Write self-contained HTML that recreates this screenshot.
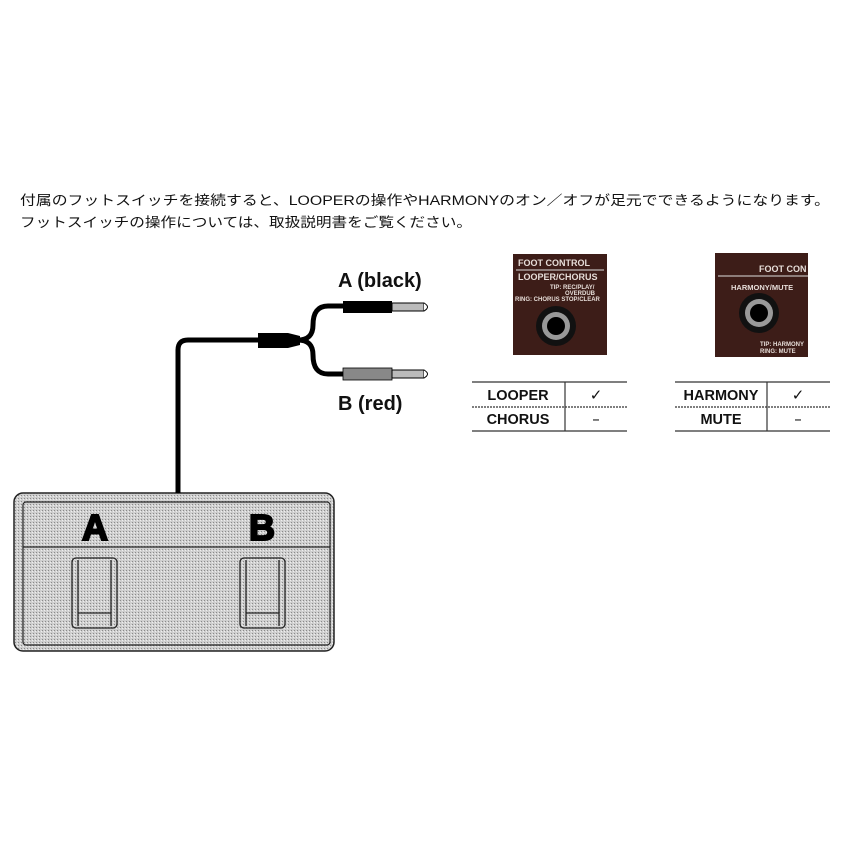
<!DOCTYPE html>
<html><head><meta charset="utf-8"><style>
body{margin:0;background:#fff;width:850px;height:850px;overflow:hidden}
svg{display:block}
</style></head><body>
<svg width="850" height="850" viewBox="0 0 850 850" xmlns="http://www.w3.org/2000/svg">
<defs>
<pattern id="dots" width="3" height="3" patternUnits="userSpaceOnUse"><rect width="3" height="3" fill="#cfcfcf"/><rect width="1" height="1" fill="#8a8a8a"/><rect x="2" y="1" width="1" height="1" fill="#eee"/></pattern>
</defs>
<g font-family="'Liberation Sans','Noto Sans CJK JP',sans-serif" font-size="13.5" fill="#111">
<text x="20" y="205" textLength="810" lengthAdjust="spacingAndGlyphs">付属のフットスイッチを接続すると、LOOPERの操作やHARMONYのオン／オフが足元でできるようになります。</text>
<text x="20" y="227" textLength="452" lengthAdjust="spacingAndGlyphs">フットスイッチの操作については、取扱説明書をご覧ください。</text>
</g>
<!-- pedal -->
<rect x="14" y="493" width="320" height="158" rx="9" fill="url(#dots)" stroke="#222" stroke-width="1.5"/>
<rect x="23" y="502" width="307" height="143" rx="3" fill="none" stroke="#222" stroke-width="1.2"/>
<line x1="23" y1="547" x2="330" y2="547" stroke="#222" stroke-width="1.2"/>
<g font-family="'Liberation Sans',sans-serif" font-weight="bold" font-size="36" fill="#000" stroke="#000" stroke-width="2" text-anchor="middle">
<text x="95" y="540">A</text><text x="262" y="540">B</text></g>
<g fill="none" stroke="#222" stroke-width="1.3">
<rect x="72" y="558" width="45" height="70" rx="4"/><line x1="78" y1="560" x2="78" y2="626"/><line x1="111" y1="560" x2="111" y2="626"/><line x1="78" y1="613" x2="111" y2="613"/>
<rect x="240" y="558" width="45" height="70" rx="4"/><line x1="246" y1="560" x2="246" y2="626"/><line x1="279" y1="560" x2="279" y2="626"/><line x1="246" y1="613" x2="279" y2="613"/>
</g>
<!-- cable -->
<path d="M178 493 V350 Q178 340 188 340 H262" fill="none" stroke="#000" stroke-width="5"/>
<path d="M258 333 H288 L300 336 V345 L288 348 H258 Z" fill="#000"/>
<path d="M298 340 Q313 340 313 325 Q313 306 328 306 H345 M298 340 Q313 340 313 355 Q313 374 328 374 H345" fill="none" stroke="#000" stroke-width="5"/>
<rect x="343" y="301" width="49" height="12" fill="#000"/>
<rect x="392" y="303" width="32" height="8" fill="#bbb" stroke="#000" stroke-width="1"/>
<path d="M424 303 Q431 307 424 311" fill="#fff" stroke="#000"/>
<rect x="343" y="368" width="49" height="12" fill="#888" stroke="#000" stroke-width="0.8"/>
<rect x="392" y="370" width="32" height="8" fill="#bbb" stroke="#000" stroke-width="1"/>
<path d="M424 370 Q431 374 424 378" fill="#fff" stroke="#000"/>
<g font-family="'Liberation Sans',sans-serif" font-weight="bold" font-size="20" fill="#111">
<text x="338" y="287">A (black)</text><text x="338" y="410">B (red)</text></g>
<!-- photos -->
<rect x="513" y="254" width="94" height="101" fill="#3d1d18"/>
<g font-family="'Liberation Sans',sans-serif" font-size="9" fill="#e6ddd8" font-weight="bold">
<text x="518" y="266">FOOT CONTROL</text>
<line x1="516" y1="270" x2="604" y2="270" stroke="#ddd"/>
<text x="518" y="280">LOOPER/CHORUS</text>
<text x="550" y="289" font-size="6">TIP: REC/PLAY/</text>
<text x="565" y="295" font-size="6">OVERDUB</text>
<text x="515" y="301" font-size="6">RING: CHORUS  STOP/CLEAR</text>
</g>
<circle cx="556" cy="326" r="20" fill="#111"/><circle cx="556" cy="326" r="14" fill="#999"/><circle cx="556" cy="326" r="9" fill="#000"/>
<rect x="715" y="253" width="93" height="104" fill="#3d1d18"/>
<g font-family="'Liberation Sans',sans-serif" font-size="9" fill="#e6ddd8" font-weight="bold">
<text x="759" y="272">FOOT CON</text>
<line x1="718" y1="276" x2="808" y2="276" stroke="#ddd"/>
<text x="731" y="290" font-size="7.5">HARMONY/MUTE</text>
<text x="760" y="346" font-size="6">TIP: HARMONY</text>
<text x="760" y="353" font-size="6">RING: MUTE</text>
</g>
<circle cx="759" cy="313" r="20" fill="#111"/><circle cx="759" cy="313" r="14" fill="#999"/><circle cx="759" cy="313" r="9" fill="#000"/>
<!-- tables -->
<g stroke="#333" stroke-width="1.2">
<line x1="472" y1="382" x2="627" y2="382"/><line x1="472" y1="407" x2="627" y2="407" stroke-dasharray="2 1"/><line x1="472" y1="431" x2="627" y2="431"/><line x1="565" y1="382" x2="565" y2="431"/>
<line x1="675" y1="382" x2="830" y2="382"/><line x1="675" y1="407" x2="830" y2="407" stroke-dasharray="2 1"/><line x1="675" y1="431" x2="830" y2="431"/><line x1="767" y1="382" x2="767" y2="431"/>
</g>
<g font-family="'Liberation Sans',sans-serif" font-weight="bold" font-size="14.5" fill="#111" text-anchor="middle">
<text x="518" y="400">LOOPER</text><text x="518" y="424">CHORUS</text>
<text x="721" y="400">HARMONY</text><text x="721" y="424">MUTE</text>
</g>
<g font-family="'DejaVu Sans',sans-serif" font-size="15" fill="#111" text-anchor="middle">
<text x="596" y="400">✓</text><text x="596" y="424">–</text>
<text x="798" y="400">✓</text><text x="798" y="424">–</text>
</g>
</svg>
</body></html>
